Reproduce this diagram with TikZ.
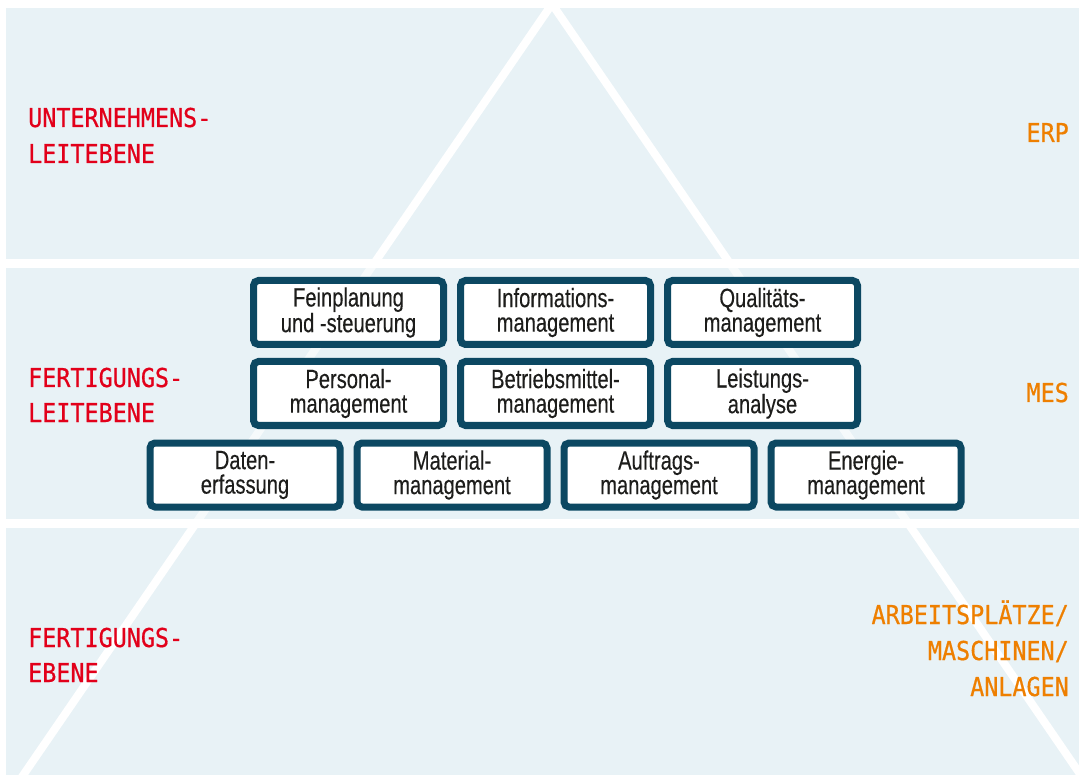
\documentclass[tikz,border=0pt]{standalone}
\usepackage{fontspec}
\setmainfont{Liberation Sans}
\newfontfamily\boxfont[FakeStretch=0.76,FakeBold=0.25]{Liberation Sans}
\newfontfamily\levelfont[FakeStretch=0.9,FakeBold=0.6]{DejaVu Sans Mono}
\definecolor{panelblue}{HTML}{E8F2F6}
\definecolor{frameblue}{HTML}{0C4862}
\definecolor{levelred}{HTML}{E2001A}
\definecolor{sysorange}{HTML}{EE7F00}
\definecolor{ink}{HTML}{1D1D1B}
\begin{document}
\begin{tikzpicture}[x=1pt,y=-1pt,
  panel/.style={fill=panelblue,draw=none},
  edge/.style={draw=white,line width=8pt},
  module/.style={draw=frameblue,line width=7pt,fill=white,rounded corners=5pt,
    minimum width=190pt,minimum height=64pt,inner sep=0pt,align=center,
    text=ink,font=\boxfont\fontsize{26.5}{24.5}\selectfont},
  level/.style={text=levelred,inner sep=0pt,font=\levelfont\fontsize{26}{36}\selectfont},
  system/.style={text=sysorange,inner sep=0pt,font=\levelfont\fontsize{26}{36}\selectfont}]
\useasboundingbox (0,0) rectangle (1079,775);
\fill[white] (0,0) rectangle (1079,775);

% three horizontal bands
\path[panel] (6,8) rectangle (1079,259);
\path[panel] (6,268) rectangle (1079,519);
\path[panel] (6,528) rectangle (1079,775);

% pyramid outline behind the bands' content
\coordinate (apex) at (552,4);
\coordinate (baseL) at (13,790);
\coordinate (baseR) at (1091,790);
\begin{scope}
  \clip (6,8) rectangle (1079,259) (6,528) rectangle (1079,775);
  \draw[edge] (baseL) -- (apex) -- (baseR);
\end{scope}
\begin{scope}
  \clip (6,268) rectangle (1079,519);
  \draw[edge,opacity=0.65] (baseL) -- (apex) -- (baseR);
\end{scope}

% MES modules
\node[module] (fein) at (348.5,312.5) {Feinplanung\\und -steuerung};
\node[module] (info) at (555.5,312.5) {Informations-\\management};
\node[module] (qual) at (762.5,312.5) {Qualitäts-\\management};
\node[module] (pers) at (348.5,393.5) {Personal-\\management};
\node[module] (betr) at (555.5,393.5) {Betriebsmittel-\\management};
\node[module] (leis) at (762.5,393.5) {Leistungs-\\analyse};
\node[module] (date) at (245,475) {Daten-\\erfassung};
\node[module] (mate) at (452,475) {Material-\\management};
\node[module] (auft) at (659,475) {Auftrags-\\management};
\node[module] (ener) at (866,475) {Energie-\\management};

% level names
\node[level,anchor=base west] (ul1) at (28,127) {UNTERNEHMENS-};
\node[level,anchor=base west] (ul2) at (28,163) {LEITEBENE};
\node[level,anchor=base west] (fl1) at (28,387) {FERTIGUNGS-};
\node[level,anchor=base west] (fl2) at (28,422) {LEITEBENE};
\node[level,anchor=base west] (fe1) at (28,647) {FERTIGUNGS-};
\node[level,anchor=base west] (fe2) at (28,682) {EBENE};

% systems per level
\node[system,anchor=base east] (erp) at (1069,142) {ERP};
\node[system,anchor=base east] (mes) at (1069,402) {MES};
\node[system,anchor=base east] (ap1) at (1069,624) {ARBEITSPLÄTZE/};
\node[system,anchor=base east] (ap2) at (1069,660) {MASCHINEN/};
\node[system,anchor=base east] (ap3) at (1069,696) {ANLAGEN};
\end{tikzpicture}
\end{document}
